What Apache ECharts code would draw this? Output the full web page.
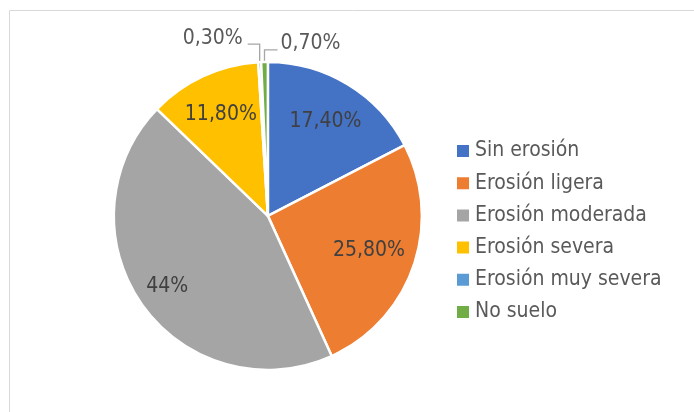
<!DOCTYPE html>
<html><head><meta charset="utf-8">
<script src="https://cdn.jsdelivr.net/npm/echarts@6/dist/echarts.min.js"></script>
<style>html,body{margin:0;padding:0;background:#fff}#c{width:694px;height:412px}</style>
</head><body><div id="c"></div>
<script>
const categories = ['Sin erosión','Erosión ligera','Erosión moderada','Erosión severa','Erosión muy severa','No suelo'];
const values = [17.4, 25.8, 44, 11.8, 0.3, 0.7];
const labels = ['17,40%','25,80%','44%','11,80%','0,30%','0,70%'];
const colors = ['#4472C4','#ED7D31','#A5A5A5','#FFC000','#5B9BD5','#70AD47'];

const FONT = "'Liberation Sans Narrow','DejaVu Sans Condensed',sans-serif";
const CX = 0.386, CY = 0.524, R = 154;
const labelRadius = [0.72, 0.695, 0.8, 0.727];

const chart = echarts.init(document.getElementById('c'), null, {renderer:'canvas'});
const data = categories.map((n,i)=>({
  name:n, value:values[i], itemStyle:{color:colors[i]},
  label:{position: i<4 ? 'inside':'outside', formatter: labels[i], color: i<4 ? '#404040' : '#595959'},
  labelLine:{show: i>=4, lineStyle:{color:'#A6A6A6', width:1.3}}
}));
chart.setOption({
  backgroundColor:'#fff',
  animation:false,
  graphic:[{type:'rect', shape:{x:9.5,y:10.5,width:700,height:420}, style:{fill:'none', stroke:'#D9D9D9', lineWidth:1}}],
  legend:{orient:'vertical', left:455, top:140, padding:0, itemWidth:14, itemHeight:14, itemGap:10.2,
    icon:'rect', data:categories,
    textStyle:{color:'#595959', fontSize:21, fontFamily:FONT, lineHeight:22}},
  series:[{
    type:'pie', radius:R, center:[(CX*100)+'%',(CY*100)+'%'], startAngle:90, clockwise:true,
    avoidLabelOverlap:false,
    itemStyle:{borderColor:'#fff', borderWidth:2.5},
    label:{fontSize:21, fontFamily:FONT},
    labelLine:{length:10,length2:10},
    data:data,
    labelLayout:function(p){
      const i = p.dataIndex;
      if(i<4){
        const cx = chart.getWidth()*CX, cy = chart.getHeight()*CY;
        const lx = p.labelRect.x + p.labelRect.width/2, ly = p.labelRect.y + p.labelRect.height/2;
        const vx = lx-cx, vy = ly-cy, d = Math.sqrt(vx*vx+vy*vy);
        const k = labelRadius[i]*R/d;
        return {dx: vx*k - vx, dy: vy*k - vy};
      }
      const p0 = p.labelLinePoints[0];
      if(i===4){
        const y1 = p0[1]-18, x2 = p0[0]-12;
        return {x:x2-5, y:y1-6, align:'right', verticalAlign:'middle',
          labelLinePoints:[p0,[p0[0],y1],[x2,y1]]};
      }
      const y1 = p0[1]-12, x2 = p0[0]+13;
      return {x:x2+3, y:y1-6, align:'left', verticalAlign:'middle',
        labelLinePoints:[p0,[p0[0],y1],[x2,y1]]};
    }
  }]
});
</script></body></html>
